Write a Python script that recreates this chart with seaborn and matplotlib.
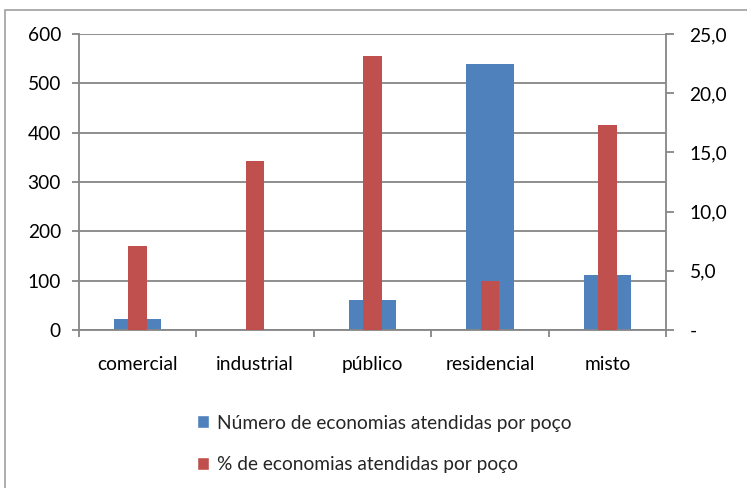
import matplotlib
matplotlib.use("Agg")
import matplotlib.pyplot as plt
import seaborn as sns
from matplotlib.patches import Rectangle, Patch
from matplotlib.ticker import FuncFormatter

# categories and values
categorias = ["comercial", "industrial", "público", "residencial", "misto"]
numero_economias = [22, 0, 60, 540, 112]
pct_economias = [7.1, 14.3, 23.1, 4.1, 17.3]

serie_num = "Número de economias atendidas por poço"
serie_pct = "% de economias atendidas por poço"

azul = "#4F81BD"
vermelho = "#C0504D"
cinza = "#868686"
fs = 13.8

sns.set_theme(style="white")
plt.rcParams["font.family"] = ["Lato", "DejaVu Sans"]

fig = plt.figure(figsize=(7.47, 4.88), dpi=100)
ax = fig.add_axes([79 / 747, 1 - 330 / 488, (666 - 79) / 747, (330 - 34) / 488])
ax2 = ax.twinx()

sns.barplot(x=categorias, y=numero_economias, ax=ax, color=azul, width=0.405,
            saturation=1, linewidth=0, zorder=2)
sns.barplot(x=categorias, y=pct_economias, ax=ax2, color=vermelho, width=0.16,
            saturation=1, linewidth=0, zorder=2)

ax.set_ylim(0, 600)
ax.set_yticks(range(0, 601, 100))
ax2.set_ylim(0, 25)
ax2.set_yticks(range(0, 26, 5))
ax2.yaxis.set_major_formatter(FuncFormatter(lambda v, p: "-" if v == 0 else f"{v:.1f}".replace(".", ",")))
ax.set_xlim(-0.5, 4.5)

ax.yaxis.grid(True, color=cinza, linewidth=1.3)
ax.set_axisbelow(True)
ax.set_xlabel("")
ax.set_ylabel("")
ax2.set_ylabel("")

for a in (ax, ax2):
    for s in a.spines.values():
        s.set_visible(False)
ax.spines["left"].set_visible(True)
ax.spines["bottom"].set_visible(True)
ax2.spines["right"].set_visible(True)
for s in (ax.spines["left"], ax.spines["bottom"], ax2.spines["right"]):
    s.set_color(cinza)
    s.set_linewidth(1.3)

# x ticks at category boundaries, labels at centers
ax.set_xticks([i - 0.5 for i in range(6)], minor=False)
ax.set_xticklabels([""] * 6)
ax.set_xticks(range(5), minor=True)
ax.set_xticklabels(categorias, minor=True)
ax.tick_params(axis="x", which="major", length=5, width=1.3, color=cinza, direction="out", bottom=True)
ax.tick_params(axis="x", which="minor", length=0, pad=19, labelsize=fs, labelcolor="#000000")
ax.tick_params(axis="y", length=5, width=1.3, color=cinza, direction="out", left=True,
               pad=8, labelsize=fs, labelcolor="#000000")
ax2.tick_params(axis="y", length=6, width=1.3, color=cinza, direction="out", right=True,
                pad=11, labelsize=fs, labelcolor="#000000")

handles = [Patch(facecolor=azul, label=serie_num), Patch(facecolor=vermelho, label=serie_pct)]
fig.legend(handles=handles, loc="center", bbox_to_anchor=(384 / 747, 1 - 444 / 488),
           frameon=False, fontsize=fs, handlelength=0.65, handleheight=0.65,
           handletextpad=0.4, labelspacing=1.3, alignment="left")

# chart area border (cropped on right and bottom)
fig.patches.append(Rectangle((5 / 747, -0.1), 1.2, 1 - 10 / 488 + 0.1, transform=fig.transFigure,
                             fill=False, edgecolor="#A0A0A0", linewidth=1.2, zorder=0))

fig.savefig("out.png", dpi=100)
